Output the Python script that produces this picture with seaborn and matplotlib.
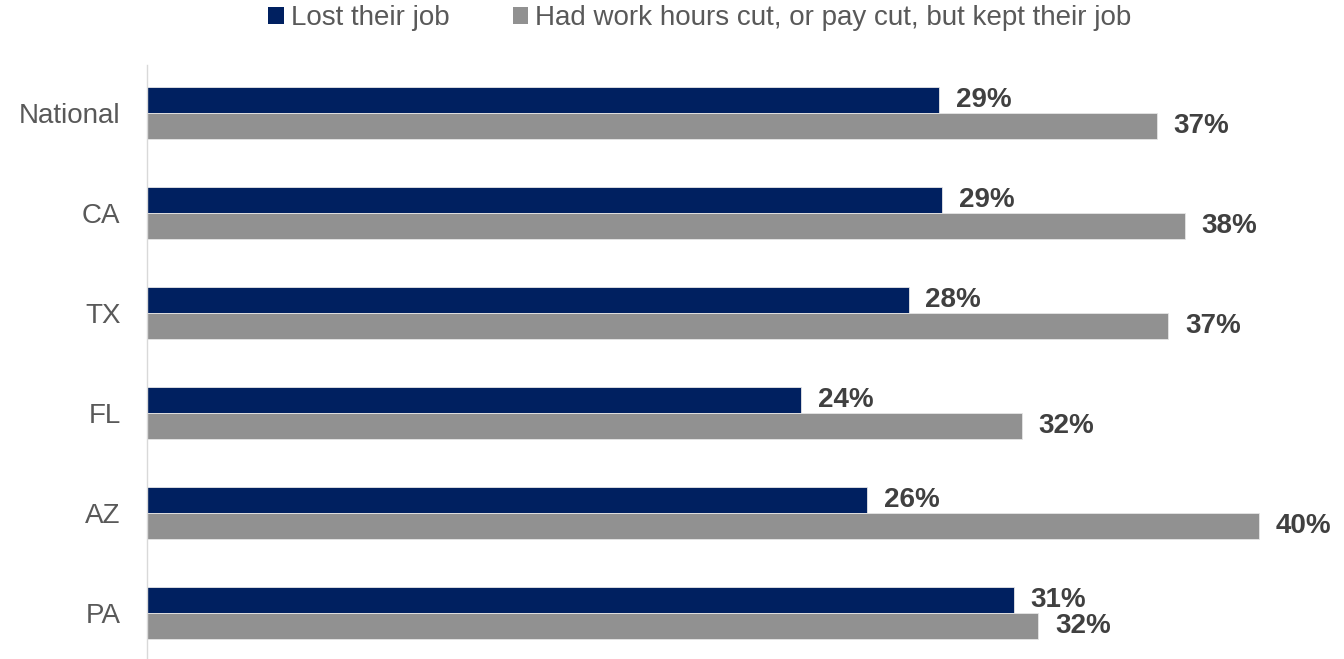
import seaborn as sns
import matplotlib.pyplot as plt
import pandas as pd

regions = ["National", "CA", "TX", "FL", "AZ", "PA"]
lost_job = [28.7, 28.8, 27.6, 23.7, 26.1, 31.4]
hours_cut = [36.6, 37.6, 37.0, 31.7, 40.3, 32.3]
series = ["Lost their job", "Had work hours cut, or pay cut, but kept their job"]

df = pd.DataFrame({
    "region": regions * 2,
    "value": lost_job + hours_cut,
    "series": [series[0]] * len(regions) + [series[1]] * len(regions),
})

sns.set_theme(style="white")
plt.rcParams['font.family'] = ['Liberation Sans', 'DejaVu Sans']

fig = plt.figure(figsize=(13.44, 6.59), dpi=100)
ax = fig.add_axes([147 / 1344, -2 / 659, 1197 / 1344, 596 / 659])

palette = {series[0]: "#002060", series[1]: "#919191"}
sns.barplot(data=df, x="value", y="region", hue="series", orient="h",
            palette=palette, width=0.52, gap=0, ax=ax,
            edgecolor="#E6E6E6", linewidth=0.6, saturation=1)

ax.set_xlim(0, 1197 / 27.6)
ax.set_ylim(5.48, -0.48)
ax.set_xlabel("")
ax.set_ylabel("")
ax.set_xticks([])
for s in ["top", "right", "bottom"]:
    ax.spines[s].set_visible(False)
ax.spines["left"].set_color("#D9D9D9")
ax.spines["left"].set_linewidth(1)
ax.tick_params(axis="y", length=0, pad=19, labelsize=20, labelcolor="#595959")

# value labels
for cont in ax.containers:
    ax.bar_label(cont, labels=[f"{v:.0f}%" for v in cont.datavalues],
                 padding=12, fontsize=20, fontweight="bold", color="#404040")

leg = ax.legend(loc="center", bbox_to_anchor=(700 / 1344, 1 - 18 / 659),
                bbox_transform=fig.transFigure, ncol=2,
                frameon=False, fontsize=20, handlelength=0.55, handleheight=0.55,
                handletextpad=0.25, columnspacing=2.3, borderaxespad=0)
for t in leg.get_texts():
    t.set_color("#595959")
for h in leg.legend_handles:
    h.set_edgecolor("none")

fig.savefig("out.png", dpi=100)
